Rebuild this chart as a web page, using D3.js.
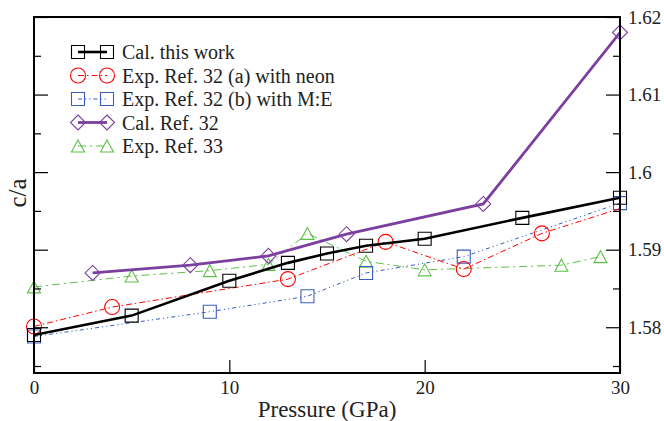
<!DOCTYPE html>
<html>
<head>
<meta charset="utf-8">
<script src="https://cdn.jsdelivr.net/npm/d3@7"></script>
<style>
  body { margin: 0; background: #fff; }
</style>
</head>
<body>
<script>
// c/a ratio vs pressure
const pressureCal = [0, 5, 10, 13, 15, 17, 20, 25, 30];
const caCal = [1.5790, 1.5815, 1.5860, 1.5883, 1.5895, 1.5905, 1.5914, 1.5941, 1.5967];

const pressureNeon = [0, 4, 13, 18, 22, 26, 31];
const caNeon = [1.5801, 1.5826, 1.5862, 1.5910, 1.5875, 1.5921, 1.5961];

const pressureME = [0, 9, 14, 17, 22, 30];
const caME = [1.5788, 1.5820, 1.5840, 1.5870, 1.5891, 1.5960];

const pressureCalRef32 = [3, 8, 12, 16, 23, 30];
const caCalRef32 = [1.5870, 1.5880, 1.5892, 1.5920, 1.5959, 1.6180];

const pressureRef33 = [0, 5, 9, 12, 14, 17, 20, 27, 29];
const caRef33 = [1.5852, 1.5866, 1.5873, 1.5881, 1.5921, 1.5885, 1.5874, 1.5880, 1.5891];

const xTicks = [0, 10, 20, 30];
const yTicks = [1.58, 1.59, 1.60, 1.61, 1.62];
const yTickLabels = ["1.58", "1.59", "1.6", "1.61", "1.62"];
const yMinorTicks = [1.575, 1.585, 1.595, 1.605, 1.615];

const series = [
  {name: "Cal. this work", x: pressureCal, y: caCal, color: "#000000", width: 2.6, dash: null, symbol: "square"},
  {name: "Exp. Ref. 32 (a) with neon", x: pressureNeon, y: caNeon, color: "#ff0000", width: 1, dash: "6,3,1.5,3", symbol: "circle"},
  {name: "Exp. Ref. 32 (b) with M:E", x: pressureME, y: caME, color: "#3a5cbf", width: 1, dash: "4,3,1.2,3,1.2,3", symbol: "square"},
  {name: "Cal. Ref. 32", x: pressureCalRef32, y: caCalRef32, color: "#7b3fa0", width: 2.8, dash: null, symbol: "diamond"},
  {name: "Exp. Ref. 33", x: pressureRef33, y: caRef33, color: "#5fbf4a", width: 1, dash: "8,4,2,4", symbol: "triangle"}
];

const FONT = "Liberation Serif";
const width = 664, height = 421;
const margin = {left: 34, right: 44, top: 17, bottom: 48};

const x = d3.scaleLinear().domain([0, 30]).range([margin.left, width - margin.right]);
const y = d3.scaleLinear().domain([1.5741, 1.62]).range([height - margin.bottom, margin.top]);

const svg = d3.select("body").append("svg")
  .attr("width", width)
  .attr("height", height)
  .style("display", "block");

svg.append("defs").append("clipPath").attr("id", "plotclip")
  .append("rect")
  .attr("x", x(0)).attr("y", y(1.62))
  .attr("width", x(30) - x(0)).attr("height", y(1.5741) - y(1.62));

function symbolPath(type, cx, cy) {
  if (type === "square") {
    const h = 6.5;
    return `M${cx - h},${cy - h}H${cx + h}V${cy + h}H${cx - h}Z`;
  }
  if (type === "circle") {
    const r = 7.5;
    return `M${cx + r},${cy}A${r},${r} 0 1,1 ${cx - r},${cy}A${r},${r} 0 1,1 ${cx + r},${cy}Z`;
  }
  if (type === "diamond") {
    const r = 7.5;
    return `M${cx},${cy - r}L${cx + r},${cy}L${cx},${cy + r}L${cx - r},${cy}Z`;
  }
  // triangle
  return `M${cx},${cy - 6}L${cx + 6.5},${cy + 6}L${cx - 6.5},${cy + 6}Z`;
}

const line = d3.line().x(d => x(d[0])).y(d => y(d[1]));

// draw back to front so the black set sits on top
series.slice().reverse().forEach(s => {
  const pts = s.x.map((v, i) => [v, s.y[i]]);
  const g = svg.append("g");
  g.append("path")
    .datum(pts)
    .attr("clip-path", "url(#plotclip)")
    .attr("fill", "none")
    .attr("stroke", s.color)
    .attr("stroke-width", s.width)
    .attr("stroke-dasharray", s.dash)
    .attr("d", line);
  g.selectAll("path.sym")
    .data(pts.filter(d => d[0] <= 30))
    .enter().append("path")
    .attr("class", "sym")
    .attr("fill", "none")
    .attr("stroke", s.color)
    .attr("stroke-width", 1.1)
    .attr("d", d => symbolPath(s.symbol, x(d[0]), y(d[1])));
});

// axes
const axisG = svg.append("g");

axisG.append("g")
  .attr("transform", `translate(0,${y(1.5741)})`)
  .call(d3.axisBottom(x).tickValues(xTicks).tickSizeInner(-13).tickSizeOuter(0).tickPadding(8));

axisG.append("g")
  .attr("transform", `translate(${x(0)},0)`)
  .call(d3.axisRight(y).tickValues(yTicks).tickSizeInner(14).tickSizeOuter(0).tickFormat(""));
axisG.append("g")
  .attr("transform", `translate(${x(0)},0)`)
  .call(d3.axisRight(y).tickValues(yMinorTicks).tickSizeInner(7).tickSizeOuter(0).tickFormat(""));

axisG.append("g")
  .attr("transform", `translate(${x(30)},0)`)
  .call(d3.axisRight(y).tickValues(yTicks).tickSizeInner(-14).tickSizeOuter(0).tickPadding(8)
    .tickFormat((d, i) => yTickLabels[i]));
axisG.append("g")
  .attr("transform", `translate(${x(30)},0)`)
  .call(d3.axisRight(y).tickValues(yMinorTicks).tickSizeInner(-7).tickSizeOuter(0).tickFormat(""));

axisG.selectAll(".domain").remove();
axisG.selectAll("g").attr("font-family", null).attr("font-size", null);
axisG.selectAll("text").style("font-family", FONT).style("font-size", "19px").attr("fill", "#222");
axisG.selectAll(".tick line").attr("stroke", "#000").attr("stroke-width", 1.2);

// frame
svg.append("rect")
  .attr("x", x(0)).attr("y", y(1.62))
  .attr("width", x(30) - x(0)).attr("height", y(1.5741) - y(1.62))
  .attr("fill", "none")
  .attr("stroke", "#000")
  .attr("stroke-width", 2);

// titles
svg.append("text")
  .attr("x", (x(0) + x(30)) / 2)
  .attr("y", 417)
  .attr("text-anchor", "middle")
  .style("font-family", FONT)
  .style("font-size", "23px")
  .attr("fill", "#222")
  .text("Pressure (GPa)");

svg.append("text")
  .attr("transform", "translate(26,193) rotate(-90)")
  .attr("text-anchor", "middle")
  .style("font-family", FONT)
  .style("font-size", "25px")
  .attr("fill", "#222")
  .text("c/a");

// legend
const legend = svg.append("g");
series.forEach((s, i) => {
  const ly = 52 + i * 23.5;
  const row = legend.append("g");
  row.append("line")
    .attr("x1", 78).attr("x2", 107)
    .attr("y1", ly).attr("y2", ly)
    .attr("stroke", s.color)
    .attr("stroke-width", s.width)
    .attr("stroke-dasharray", s.dash);
  [78, 107].forEach(cx => {
    row.append("path")
      .attr("fill", "none")
      .attr("stroke", s.color)
      .attr("stroke-width", 1.1)
      .attr("d", symbolPath(s.symbol, cx, ly));
  });
  row.append("text")
    .attr("x", 122)
    .attr("y", ly + 7)
    .style("font-family", FONT)
    .style("font-size", "20px")
    .attr("fill", "#222")
    .text(s.name);
});
</script>
</body>
</html>
